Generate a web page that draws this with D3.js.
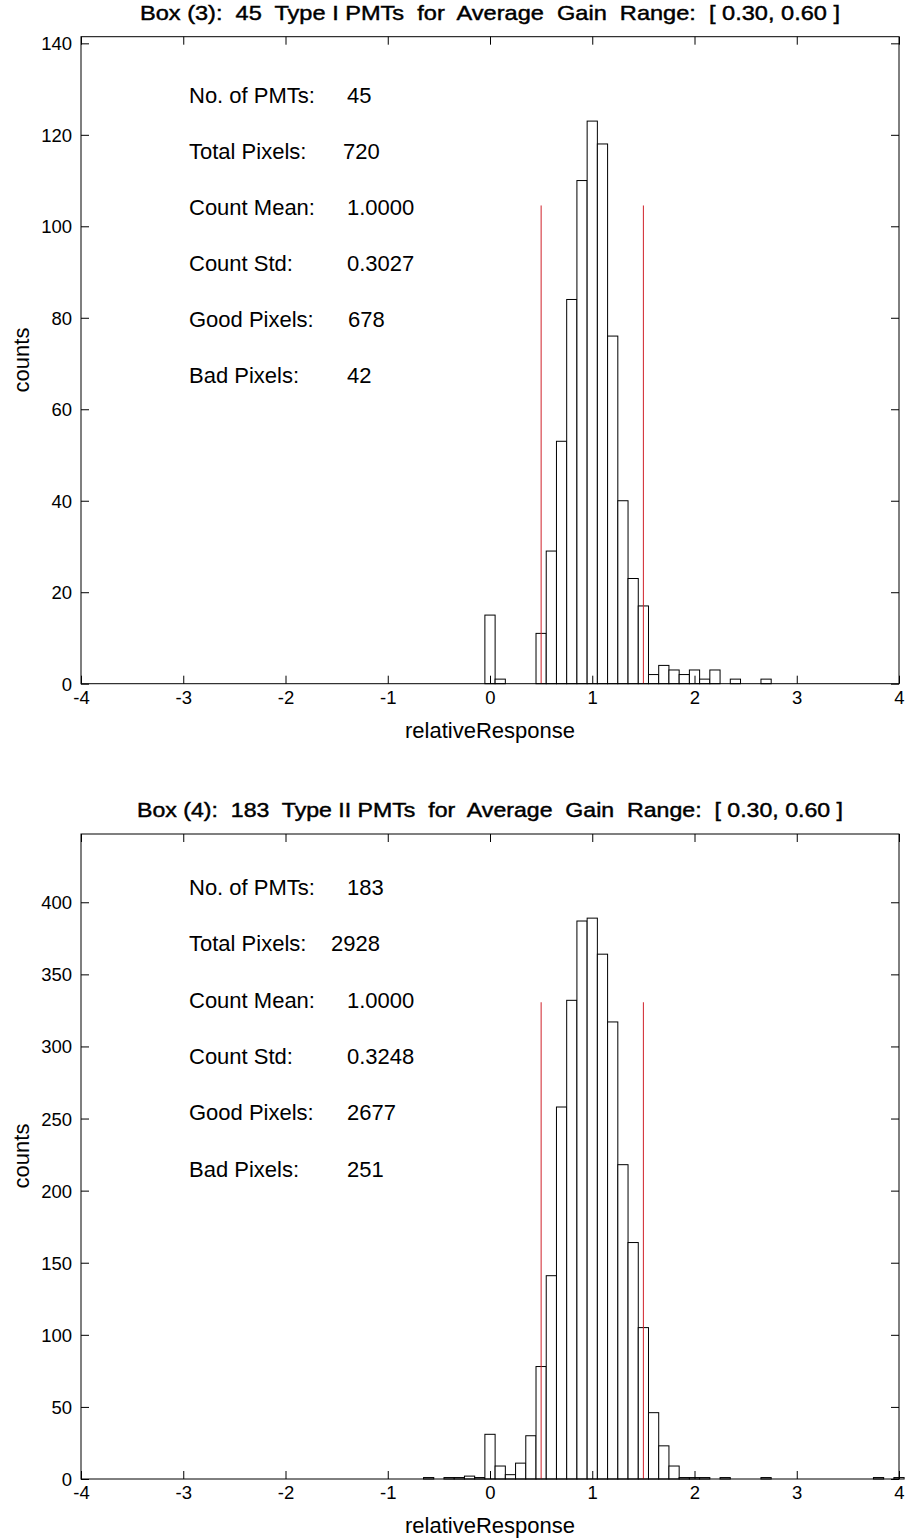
<!DOCTYPE html>
<html>
<head>
<meta charset="utf-8">
<script src="https://cdn.jsdelivr.net/npm/d3@7"></script>
<style>
  html, body { margin: 0; padding: 0; background: #fff; }
  svg { display: block; }
  text { font-family: "Liberation Sans", Arial, Helvetica, sans-serif; fill: #000; }
</style>
</head>
<body>
<svg id="chart" width="906" height="1539"></svg>
<script>
// ---------- DATA ----------
// Bin centres (relativeResponse), bin width 0.1
const binCentersTop = [0.0, 0.1, 0.5, 0.6, 0.7, 0.8, 0.9, 1.0, 1.1, 1.2, 1.3, 1.4, 1.5, 1.6, 1.7, 1.8, 1.9, 2.0, 2.1, 2.2, 2.4, 2.7];
const countsTop     = [15,  1,   11,  29,  53,  84,  110, 123, 118, 76,  40,  23,  17,  2,   4,   3,   2,   3,   1,   3,   1,   1];

const binCentersBottom = [-0.6, -0.4, -0.3, -0.2, -0.1, 0.0, 0.1, 0.2, 0.3, 0.4, 0.5, 0.6, 0.7, 0.8, 0.9, 1.0, 1.1, 1.2, 1.3, 1.4, 1.5, 1.6, 1.7, 1.8, 1.9, 2.0, 2.1, 2.3, 2.7, 3.8, 4.0];
const countsBottom     = [1,    1,    1,    2,    1,    31,  9,   3,   11,  30,  78,  141, 258, 332, 387, 389, 364, 317, 218, 164, 105, 46,  23,  9,   1,   1,   1,   1,   1,   1,   1];

const binWidth = 0.1;
const xTicks = [-4, -3, -2, -1, 0, 1, 2, 3, 4];
const yTicksTop = [0, 20, 40, 60, 80, 100, 120, 140];
const yTicksBottom = [0, 50, 100, 150, 200, 250, 300, 350, 400];
const limitLines = [0.5, 1.5];

const titleTop = "Box (3):  45  Type I PMTs  for  Average  Gain  Range:  [ 0.30, 0.60 ]";
const titleBottom = "Box (4):  183  Type II PMTs  for  Average  Gain  Range:  [ 0.30, 0.60 ]";

const statLabels = ["No. of PMTs:", "Total Pixels:", "Count Mean:", "Count Std:", "Good Pixels:", "Bad Pixels:"];
const statValuesTop = ["45", "720", "1.0000", "0.3027", "678", "42"];
const statValuesBottom = ["183", "2928", "1.0000", "0.3248", "2677", "251"];

const xLabel = "relativeResponse";
const yLabel = "counts";

// ---------- DRAW ----------
const svg = d3.select("#chart");

function panel(opts) {
  const { top, bottom, left, right, centers, counts, yTicks, title, titleY, titleLen,
          statVals, statX, statY0, labelY, xLabelY } = opts;
  const maxC = d3.max(counts);
  const x = d3.scaleLinear().domain([-4, 4]).range([left, right]);
  const y = d3.scaleLinear().domain([0, maxC * 1.15]).range([bottom, top]);
  const g = svg.append("g");

  // bars
  g.selectAll("rect.bar").data(centers.map((c, i) => ({ c, n: counts[i] })))
    .join("rect")
    .attr("class", "bar")
    .attr("x", d => x(d.c - binWidth / 2))
    .attr("width", d => x(d.c + binWidth / 2) - x(d.c - binWidth / 2))
    .attr("y", d => y(d.n))
    .attr("height", d => y(0) - y(d.n))
    .attr("fill", "#fff")
    .attr("stroke", "#000")
    .attr("stroke-width", 1);

  // red limit lines
  g.selectAll("line.lim").data(limitLines).join("line")
    .attr("x1", d => x(d)).attr("x2", d => x(d))
    .attr("y1", y(0)).attr("y2", y(0.85 * maxC))
    .attr("stroke", "#d0202a").attr("stroke-width", 1);

  // axes (MATLAB-like inward ticks on all sides)
  const tl = 8;
  const fmt = d => String(d);
  const axB = d3.axisBottom(x).tickValues(xTicks).tickSizeInner(-tl).tickSizeOuter(0).tickPadding(7).tickFormat(fmt);
  const axT = d3.axisTop(x).tickValues(xTicks).tickSizeInner(-tl).tickSizeOuter(0).tickFormat("");
  const axL = d3.axisLeft(y).tickValues(yTicks).tickSizeInner(-tl).tickSizeOuter(0).tickPadding(9).tickFormat(fmt);
  const axR = d3.axisRight(y).tickValues(yTicks).tickSizeInner(-tl).tickSizeOuter(0).tickFormat("");

  const gb = g.append("g").attr("transform", `translate(0,${bottom})`).call(axB);
  const gt = g.append("g").attr("transform", `translate(0,${top})`).call(axT);
  const gl = g.append("g").attr("transform", `translate(${left},0)`).call(axL);
  const gr = g.append("g").attr("transform", `translate(${right},0)`).call(axR);
  [gb, gt, gl, gr].forEach(a => {
    a.select(".domain").remove();
    a.selectAll("line").attr("stroke", "#000");
    a.selectAll("text").style("font-size", "18.5px").attr("fill", "#000");
  });
  gl.selectAll("text").attr("dy", "0.35em");

  // frame
  g.append("rect").attr("x", left).attr("y", top).attr("width", right - left).attr("height", bottom - top)
    .attr("fill", "none").attr("stroke", "#000").attr("stroke-width", 1);

  // title
  g.append("text").attr("x", (left + right) / 2).attr("y", titleY)
    .attr("text-anchor", "middle").style("font-size", "21px")
    .attr("stroke", "#000").attr("stroke-width", 0.45)
    .style("white-space", "pre").attr("textLength", titleLen).attr("lengthAdjust", "spacingAndGlyphs")
    .text(title);

  // axis labels
  g.append("text").attr("x", (left + right) / 2).attr("y", xLabelY)
    .attr("text-anchor", "middle").style("font-size", "22px").text(xLabel);
  g.append("text").attr("transform", `translate(29,${labelY}) rotate(-90)`)
    .attr("text-anchor", "middle").style("font-size", "22px").text(yLabel);

  // stats text
  const st = g.append("g");
  statLabels.forEach((lab, i) => {
    st.append("text").attr("x", 189).attr("y", statY0 + i * opts.statDy).attr("dy", "0.35em")
      .style("font-size", "22px").text(lab);
    st.append("text").attr("x", statX[i]).attr("y", statY0 + i * opts.statDy).attr("dy", "0.35em")
      .style("font-size", "22px").text(statVals[i]);
  });
}

panel({
  top: 36.7, bottom: 683.7, left: 81, right: 899,
  centers: binCentersTop, counts: countsTop, yTicks: yTicksTop,
  title: titleTop, titleY: 20, titleLen: 700,
  statVals: statValuesTop, statX: [347, 343, 347, 347, 348, 347], statY0: 95, statDy: 56,
  labelY: 360, xLabelY: 738
});

panel({
  top: 834, bottom: 1479, left: 81, right: 899,
  centers: binCentersBottom, counts: countsBottom, yTicks: yTicksBottom,
  title: titleBottom, titleY: 817, titleLen: 706,
  statVals: statValuesBottom, statX: [347, 331, 347, 347, 347, 347], statY0: 887, statDy: 56.4,
  labelY: 1156, xLabelY: 1533
});
</script>
</body>
</html>
